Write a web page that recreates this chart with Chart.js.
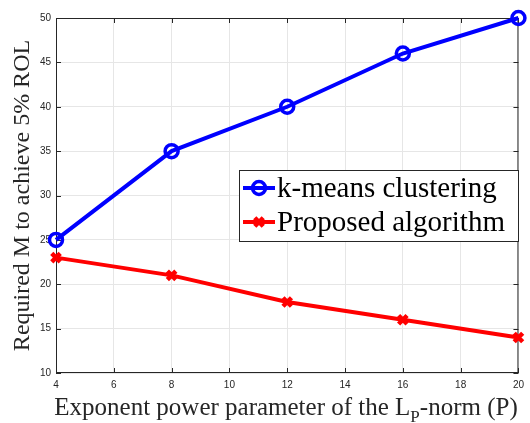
<!DOCTYPE html>
<html>
<head>
<meta charset="utf-8">
<script src="https://cdn.jsdelivr.net/npm/chart.js@4.4.1/dist/chart.umd.min.js"></script>
<style>
  html, body { margin: 0; padding: 0; background: #fff; }
  #wrap { width: 530px; height: 423px; }
</style>
</head>
<body>
<div id="wrap"><canvas id="chart"></canvas></div>
<script>
// data
var pValues = [4, 8, 12, 16, 20];
var kmeans = [25, 35, 40, 46, 50];
var proposed = [23, 21, 18, 16, 14];
var xTicks = [4, 6, 8, 10, 12, 14, 16, 18, 20];
var yTicks = [10, 15, 20, 25, 30, 35, 40, 45, 50];

var axisColor = "#262626";
var serif = "'Liberation Serif', 'Times New Roman', serif";

function toPoints(ys) {
  return pValues.map(function (x, i) { return { x: x, y: ys[i] }; });
}

// box, inside ticks, legend and x title with subscript
var matlabLook = {
  id: "matlabLook",
  beforeDatasetsDraw: function (chart) {
    var ctx = chart.ctx;
    var a = chart.chartArea;
    var xs = chart.scales.x, ys = chart.scales.y;
    ctx.save();
    ctx.strokeStyle = axisColor;
    ctx.lineWidth = 1;
    ctx.strokeRect(a.left + 0.5, a.top + 0.5, a.right - a.left - 1, a.bottom - a.top - 1);
    ctx.beginPath();
    xTicks.forEach(function (t) {
      var px = Math.round(xs.getPixelForValue(t)) + 0.5;
      ctx.moveTo(px, a.bottom); ctx.lineTo(px, a.bottom - 5);
      ctx.moveTo(px, a.top); ctx.lineTo(px, a.top + 5);
    });
    yTicks.forEach(function (t) {
      var py = Math.round(ys.getPixelForValue(t)) + 0.5;
      ctx.moveTo(a.left, py); ctx.lineTo(a.left + 5, py);
      ctx.moveTo(a.right, py); ctx.lineTo(a.right - 5, py);
    });
    ctx.stroke();
    ctx.restore();
  },
  afterDraw: function (chart) {
    var ctx = chart.ctx;
    ctx.save();
    // legend
    var lx = 239, ly = 170, lw = 279, lh = 71;
    ctx.fillStyle = "#fff";
    ctx.fillRect(lx, ly, lw, lh);
    ctx.strokeStyle = axisColor;
    ctx.lineWidth = 1;
    ctx.strokeRect(lx + 0.5, ly + 0.5, lw, lh);
    ctx.font = "29px " + serif;
    ctx.textBaseline = "middle";
    ctx.textAlign = "left";
    chart.data.datasets.forEach(function (ds, i) {
      var cy = 188 + i * 34;
      ctx.strokeStyle = ds.borderColor;
      ctx.lineWidth = 4;
      ctx.beginPath(); ctx.moveTo(243, cy); ctx.lineTo(275, cy); ctx.stroke();
      ctx.lineWidth = ds.pointBorderWidth;
      ctx.beginPath();
      if (ds.pointStyle === "circle") {
        ctx.arc(259, cy, ds.pointRadius, 0, Math.PI * 2);
      } else {
        var r = ds.pointRadius * 0.707;
        ctx.moveTo(259 - r, cy - r); ctx.lineTo(259 + r, cy + r);
        ctx.moveTo(259 + r, cy - r); ctx.lineTo(259 - r, cy + r);
      }
      ctx.stroke();
      ctx.fillStyle = "#000";
      ctx.fillText(ds.label, 277, cy + 1);
    });

    // x title: "Exponent power parameter of the L_P-norm (P)"
    var big = "25px " + serif, small = "17px " + serif;
    var p1 = "Exponent power parameter of the L", sub = "P", p2 = "-norm (P)";
    ctx.font = big; var w1 = ctx.measureText(p1).width, w3 = ctx.measureText(p2).width;
    ctx.font = small; var w2 = ctx.measureText(sub).width;
    var total = w1 + w2 + w3;
    var sx = 286 - total / 2;
    var by = 415;
    ctx.fillStyle = "#262626";
    ctx.textBaseline = "alphabetic";
    ctx.font = big; ctx.fillText(p1, sx, by);
    ctx.font = small; ctx.fillText(sub, sx + w1, by + 7);
    ctx.font = big; ctx.fillText(p2, sx + w1 + w2, by);
    ctx.restore();
  }
};

var ctx = document.getElementById("chart").getContext("2d");
var myChart = new Chart(ctx, {
  type: "line",
  data: {
    datasets: [
      {
        label: "k-means clustering",
        data: toPoints(kmeans),
        borderColor: "#0000ff",
        backgroundColor: "rgba(0,0,0,0)",
        borderWidth: 4,
        pointStyle: "circle",
        pointRadius: 6.5,
        pointBorderWidth: 3.5,
        pointBorderColor: "#0000ff",
        pointBackgroundColor: "rgba(0,0,0,0)",
        clip: false
      },
      {
        label: "Proposed algorithm",
        data: toPoints(proposed),
        borderColor: "#ff0000",
        backgroundColor: "#ff0000",
        borderWidth: 4,
        pointStyle: "crossRot",
        pointRadius: 6,
        pointBorderWidth: 4.5,
        pointBorderColor: "#ff0000",
        clip: false
      }
    ]
  },
  options: {
    responsive: true,
    maintainAspectRatio: false,
    animation: false,
    layout: { padding: { top: 18, right: 11, left: 0, bottom: 0 } },
    plugins: {
      legend: { display: false },
      tooltip: { enabled: false }
    },
    scales: {
      x: {
        type: "linear",
        min: 4,
        max: 20,
        afterBuildTicks: function (s) { s.ticks = xTicks.map(function (v) { return { value: v }; }); },
        afterFit: function (s) { s.height = 50; },
        grid: { color: "#e6e6e6", drawTicks: false },
        border: { display: false },
        ticks: { color: axisColor, padding: 6, font: { family: "'Liberation Sans', Arial, sans-serif", size: 10 } }
      },
      y: {
        min: 10,
        max: 50,
        afterBuildTicks: function (s) { s.ticks = yTicks.map(function (v) { return { value: v }; }); },
        afterFit: function (s) { s.width = 56; },
        grid: { color: "#e6e6e6", drawTicks: false },
        border: { display: false },
        ticks: { color: axisColor, padding: 5, font: { family: "'Liberation Sans', Arial, sans-serif", size: 10 } },
        title: {
          display: true,
          text: "Required M to achieve 5% ROL",
          color: "#262626",
          padding: { top: 8, bottom: 0 },
          font: { family: serif, size: 24 }
        }
      }
    }
  },
  plugins: [matlabLook]
});
</script>
</body>
</html>
